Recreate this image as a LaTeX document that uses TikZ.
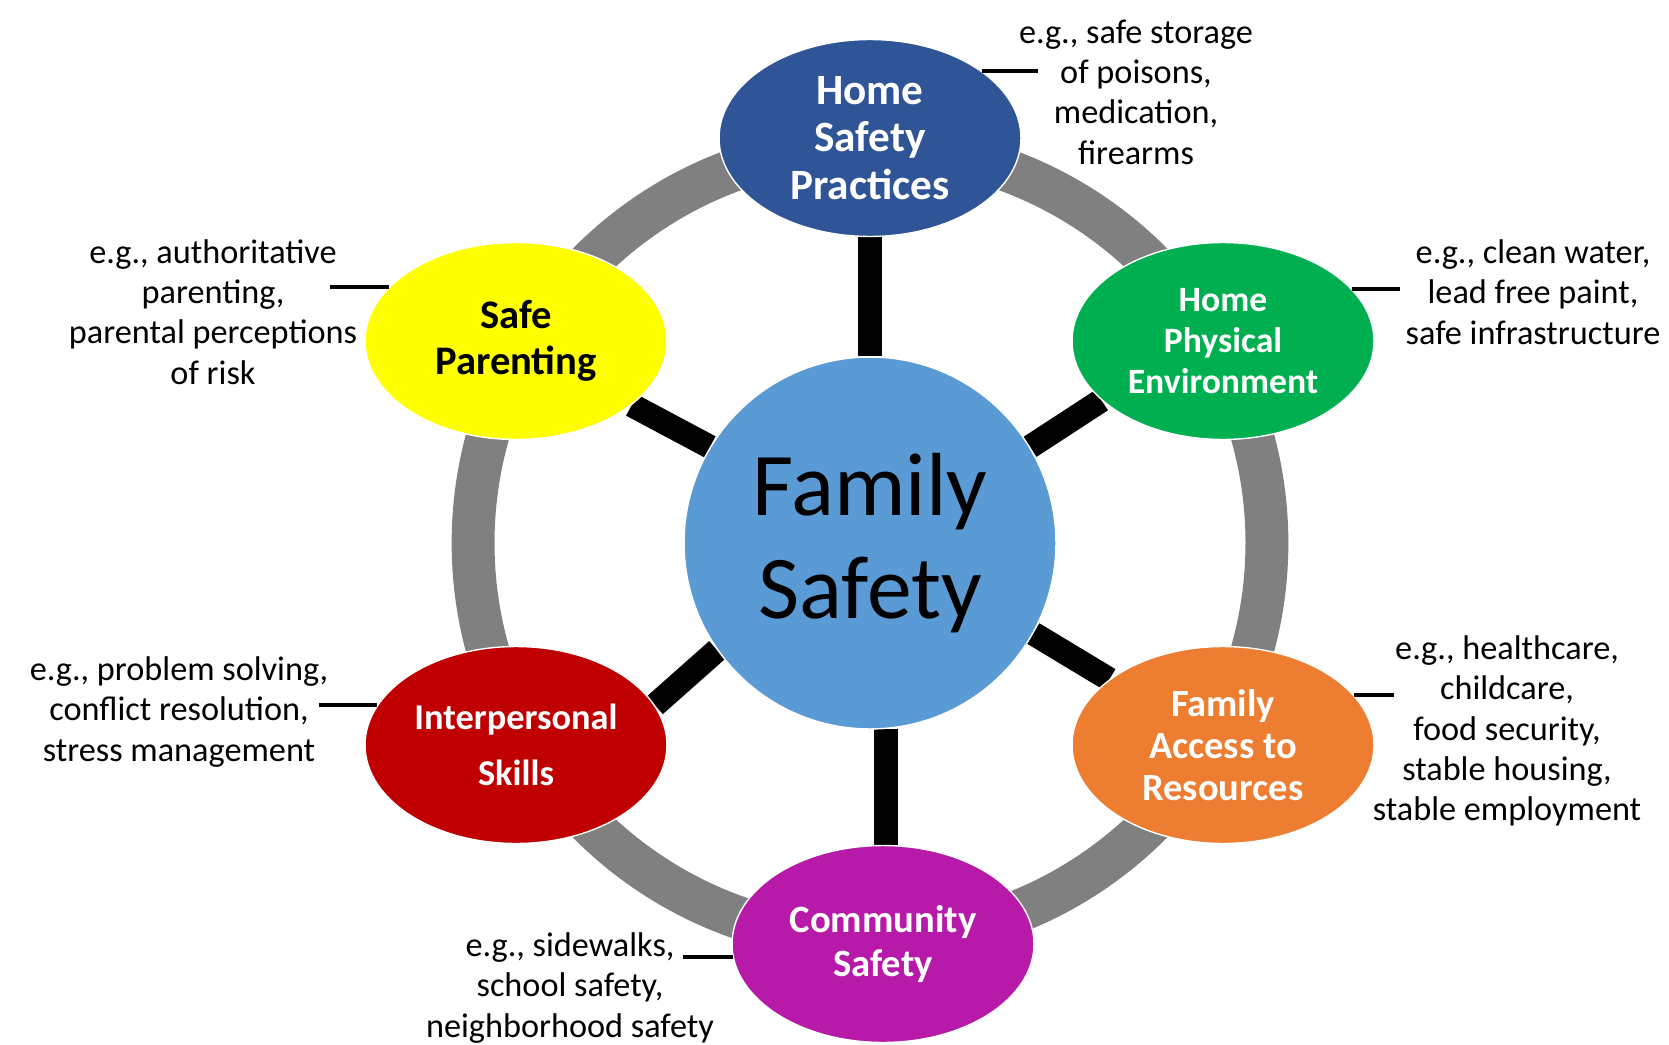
\documentclass[tikz,border=0pt]{standalone}
\usepackage{fontspec}
\setmainfont{Carlito}
\usepackage{xcolor}
\usepackage{tikz}
\usetikzlibrary{shapes.geometric,positioning,calc,backgrounds}

\definecolor{hspblue}{HTML}{2F5597}
\definecolor{fsblue}{HTML}{5B9BD5}
\definecolor{spyellow}{HTML}{FFFF00}
\definecolor{hpegreen}{HTML}{00B050}
\definecolor{isred}{HTML}{C00000}
\definecolor{farorange}{HTML}{ED7D31}
\definecolor{cspurple}{HTML}{B71AA8}
\definecolor{ringgray}{HTML}{808080}

\begin{document}
\begin{tikzpicture}[x=0.02cm, y=-0.02cm,
    area/.style={ellipse, minimum width=6.04cm, minimum height=3.94cm, inner sep=0pt,
        draw=white, line width=0.8pt, align=center, text=white},
    note/.style={align=center, inner sep=0pt, font=\fontsize{19.5}{23}\selectfont},
    spoke/.style={line width=13.6pt},
    callout/.style={line width=2pt},
    ring/.style={ringgray, line width=24.4pt}]

    \useasboundingbox (0,0) rectangle (1669,1044);

    % hub
    \node[circle, fill=fsblue, draw=white, line width=0.8pt, minimum size=7.44cm, inner sep=0pt,
        align=center, font=\fontsize{51}{58.4}\selectfont] (fs) at (870,543) {Family\\Safety};

    % six areas
    \node[area, fill=hspblue, font=\bfseries\fontsize{24.6}{27.2}\selectfont] (hsp) at (870,138) {Home\\Safety\\Practices};
    \node[area, fill=spyellow, text=black, font=\bfseries\fontsize{23.1}{26}\selectfont] (sp) at (516,341) {Safe\\Parenting};
    \node[area, fill=hpegreen, font=\bfseries\fontsize{20.3}{23.2}\selectfont] (hpe) at (1223,341) {Home\\Physical\\Environment};
    \node[area, fill=isred, font=\bfseries\fontsize{20.7}{31.7}\selectfont] (is) at (516,745) {Interpersonal\\Skills};
    \node[area, fill=farorange, font=\bfseries\fontsize{21.9}{24.1}\selectfont] (far) at (1223,745) {Family\\Access to\\Resources};
    \node[area, fill=cspurple, font=\bfseries\fontsize{22}{25}\selectfont] (cs) at (883,944) {Community\\Safety};

    % ring and spokes
    \begin{scope}[on background layer]
        \draw[ring] (fs.center) circle[radius=7.94cm];
        \draw[spoke] (fs.90) -- (hsp.270);
        \draw[spoke] (fs.149) -- (sp.-29);
        \draw[spoke] (fs.31) -- (hpe.206);
        \draw[spoke] (fs.215) -- (is.16);
        \draw[spoke] (fs.-29) -- (far.150);
        \draw[spoke] (fs.-85) -- (fs.-85 |- cs.north);
    \end{scope}

    % examples
    \node[note] (hspnote) at (1136,92) {e.g., safe storage\\of poisons,\\medication,\\firearms};
    \node[note] (spnote) at (213,312) {e.g., authoritative\\parenting,\\parental perceptions\\of risk};
    \node[note] (hpenote) at (1533,292) {e.g., clean water,\\lead free paint,\\safe infrastructure};
    \node[note] (isnote) at (179,712) {e.g., problem solving,\\conflict resolution,\\stress management};
    \node[note] (farnote) at (1507,731) {e.g., healthcare,\\childcare,\\food security,\\stable housing,\\stable employment};
    \node[note] (csnote) at (570,988) {e.g., sidewalks,\\school safety,\\neighborhood safety};

    \coordinate (hspend) at (1038,71);
    \coordinate (spend) at (330,287);
    \coordinate (hpeend) at (1400,290);
    \coordinate (isend) at (319,706);
    \coordinate (farend) at (1394,695);
    \coordinate (csend) at (683,958);

    \draw[callout] (hsp.31) -- (hsp.31 -| hspend);
    \draw[callout] (sp.157) -- (sp.157 -| spend);
    \draw[callout] (hpe.22) -- (hpe.22 -| hpeend);
    \draw[callout] (is.164) -- (is.164 -| isend);
    \draw[callout] (far.21) -- (far.21 -| farend);
    \draw[callout] (cs.185) -- (cs.185 -| csend);
\end{tikzpicture}
\end{document}
